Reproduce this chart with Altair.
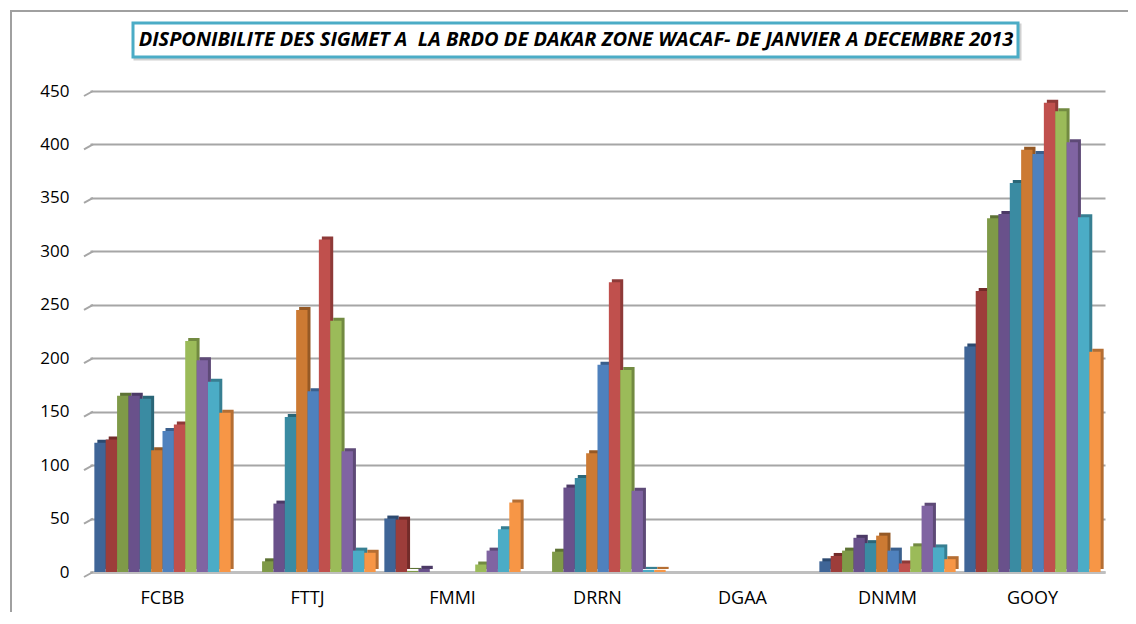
import altair as alt
import pandas as pd

stations = ["FCBB", "FTTJ", "FMMI", "DRRN", "DGAA", "DNMM", "GOOY"]
months = ["Janvier", "Février", "Mars", "Avril", "Mai", "Juin", "Juillet",
          "Août", "Septembre", "Octobre", "Novembre", "Décembre"]

fcbb = [121, 124, 165, 165, 162, 114, 132, 138, 216, 198, 178, 149]
fttj = [0, 0, 10, 64, 145, 245, 169, 311, 235, 113, 20, 18]
fmmi = [50, 49, 1, 3, 0, 0, 0, 0, 7, 20, 40, 65]
drrn = [0, 0, 19, 79, 88, 111, 194, 271, 189, 76, 2, 2]
dgaa = [0, 0, 0, 0, 0, 0, 0, 0, 0, 0, 0, 0]
dnmm = [10, 15, 20, 32, 27, 34, 20, 8, 24, 62, 23, 12]
gooy = [211, 263, 331, 335, 364, 395, 391, 439, 431, 402, 332, 206]

y_ticks = [0, 50, 100, 150, 200, 250, 300, 350, 400, 450]

title_text = "DISPONIBILITE DES SIGMET A\u00a0 LA BRDO DE DAKAR ZONE WACAF- DE JANVIER A DECEMBRE 2013"

front_colors = ["#3F6597", "#9D3D3A", "#7F9A48", "#69518B", "#3A8BA2", "#CC7A33",
                "#4F81BD", "#C0504D", "#9BBB59", "#8064A2", "#4BACC6", "#F79646"]
side_colors = ["#2C4A70", "#732B29", "#5D7234", "#4C3A66", "#2A6677", "#955925",
               "#3A5F8C", "#8E3A38", "#728A41", "#5E4A77", "#377F92", "#B56E33"]

series = {"FCBB": fcbb, "FTTJ": fttj, "FMMI": fmmi, "DRRN": drrn,
          "DGAA": dgaa, "DNMM": dnmm, "GOOY": gooy}
rows = []
for st in stations:
    for m, v in zip(months, series[st]):
        rows.append({"station": st, "month": m, "value": v})
df = pd.DataFrame(rows)

FONT = "Open Sans"
W, H = 1015, 481
PAD_IN, PAD_OUT = 0.06, 0.03
step = W / (len(stations) - PAD_IN + 2 * PAD_OUT)
bandw = step * (1 - PAD_IN)
DEPTH = 3

x_enc = alt.X("station:N", sort=stations, title=None,
              scale=alt.Scale(paddingInner=PAD_IN, paddingOuter=PAD_OUT),
              axis=alt.Axis(labelAngle=0, labelFontSize=18, labelFont=FONT,
                            labelColor="#000000", labelPadding=17, ticks=False,
                            domainColor="#BFBFBF", domainWidth=3))
y_scale = alt.Scale(domain=[0, 450], nice=False)
y_axis = alt.Axis(values=y_ticks, labelFontSize=17,
                  labelFont=FONT, labelColor="#000000", labelPadding=21,
                  ticks=False, domain=False, gridColor="#A6A6A6",
                  gridWidth=2)
y_enc = alt.Y("value:Q", title=None, scale=y_scale, axis=y_axis)

base = alt.Chart(df)

shadow = base.mark_bar(yOffset=-DEPTH).encode(
    x=x_enc,
    xOffset=alt.XOffset("month:N", sort=months,
                        scale=alt.Scale(paddingInner=0.0, range=[DEPTH, bandw + DEPTH])),
    y=y_enc,
    color=alt.Color("month:N", scale=alt.Scale(domain=months, range=side_colors),
                    legend=None),
)
front = base.mark_bar().encode(
    x=x_enc,
    xOffset=alt.XOffset("month:N", sort=months,
                        scale=alt.Scale(paddingInner=0.0, range=[0, bandw])),
    y=y_enc,
    color=alt.Color("month:N", scale=alt.Scale(domain=months, range=front_colors),
                    legend=None),
)

tick_df = pd.DataFrame({"tick": y_ticks})
diag_ticks = alt.Chart(tick_df).mark_rule(color="#A6A6A6", strokeWidth=2, yOffset=5).encode(
    x=alt.value(-6), x2=alt.value(3),
    y=alt.Y("tick:Q", title=None, scale=y_scale, axis=y_axis), y2="tick:Q")

deco = pd.DataFrame({"t": [title_text]})
frame = alt.Chart(deco).mark_rect(fill=None, stroke="#A0A0A0", strokeWidth=2).encode(
    x=alt.value(-79), x2=alt.value(1100), y=alt.value(-80), y2=alt.value(570))
title_shadow = alt.Chart(deco).mark_rect(fill="#D0D0D0", stroke="#D0D0D0", strokeWidth=3).encode(
    x=alt.value(45), x2=alt.value(930), y=alt.value(-66), y2=alt.value(-32))
title_box = alt.Chart(deco).mark_rect(fill="#FFFFFF", stroke="#4BACC6", strokeWidth=3).encode(
    x=alt.value(43), x2=alt.value(928), y=alt.value(-68), y2=alt.value(-34))
title_txt = alt.Chart(deco).mark_text(font=FONT, fontSize=20, fontWeight="bold",
                                      fontStyle="italic", color="#000000",
                                      baseline="middle", align="center").encode(
    x=alt.value(486), y=alt.value(-51), text="t:N")

chart = alt.layer(shadow, front, diag_ticks, frame, title_shadow, title_box, title_txt).resolve_scale(
    color="independent", xOffset="independent"
).properties(
    width=W, height=H,
    padding={"left": 82, "top": 83, "right": 23, "bottom": 40},
    autosize=alt.AutoSizeParams(type="none"),
    background="#FFFFFF",
).configure_view(stroke=None)

chart.save("out.html", embed_options={"renderer": "svg", "actions": False})
